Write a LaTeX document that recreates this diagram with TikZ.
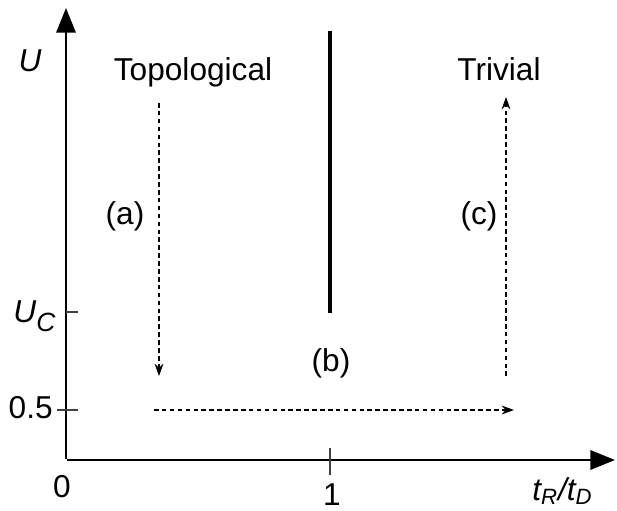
\documentclass[tikz,border=0pt]{standalone}
\usepackage{fontspec}
\setmainfont{Liberation Sans}
\usetikzlibrary{arrows.meta}

\begin{document}
\begin{tikzpicture}[
    x=0.02cm, y=-0.02cm,
    every node/.style={font=\fontsize{18}{22}\selectfont, inner sep=0pt},
    axis/.style={line width=1.2pt, -{Triangle[length=14pt,width=11pt]}},
    flow/.style={line width=0.8pt, dash pattern=on 2.6pt off 1.9pt,
        -{Stealth[length=7pt,width=5pt]}},
    tickmark/.style={line width=0.6pt, black!75},
    border/.style={line width=2.3pt}
]
\useasboundingbox (0,0) rectangle (617,510);

% --- axes
\coordinate (O) at (66,460);
\coordinate (ytop) at (66,8);
\coordinate (xend) at (615,460);
\draw[axis] (66,459) -- (ytop);
\draw[axis] (67,460) -- (xend);

% ticks
\coordinate (uc) at (66,312);
\coordinate (half) at (66,410);
\coordinate (one) at (330,460);
\draw[tickmark] (uc) -- ++(12,0);
\draw[tickmark] (half) ++(-9,0) -- ++(21,0);
\draw[tickmark] (one) ++(0,-12) -- ++(0,27);

% axis labels
\node (ulab) at (30,61) {\textit{U}};
\node[anchor=base west] (uclab) at (13,322)
    {\textit{U}\raisebox{-0.3em}{\fontsize{15}{15}\selectfont\textit{C}}};
\node[anchor=base east] (halflab) at (53,418) {0.5};
\node[anchor=base] (zero) at (62,497) {0};
\node[anchor=base] (onelab) at (332,505) {1};
\node[anchor=base west] (xlab) at (532,500) {\textit{t\textsubscript{R}/t\textsubscript{D}}};

% phase boundary
\coordinate (bnd top) at (330,31);
\coordinate (bnd bot) at (330,313);
\draw[border] (bnd top) -- (bnd bot);

% phases
\node[anchor=base] (topo) at (193,80) {Topological};
\node[anchor=base] (triv) at (499,80) {Trivial};

% paths (a), (b), (c)
\coordinate (a start) at (159,103);
\coordinate (a end) at (159,376);
\coordinate (b start) at (154,410);
\coordinate (b end) at (514,410);
\coordinate (c start) at (506,376);
\coordinate (c end) at (506,97);
\draw[flow] (a start) -- (a end);
\draw[flow] (b start) -- (b end);
\draw[flow] (c start) -- (c end);
\node[anchor=base] (alab) at (125,224) {(a)};
\node[anchor=base] (blab) at (331,371) {(b)};
\node[anchor=base] (clab) at (479,224) {(c)};
\end{tikzpicture}
\end{document}
